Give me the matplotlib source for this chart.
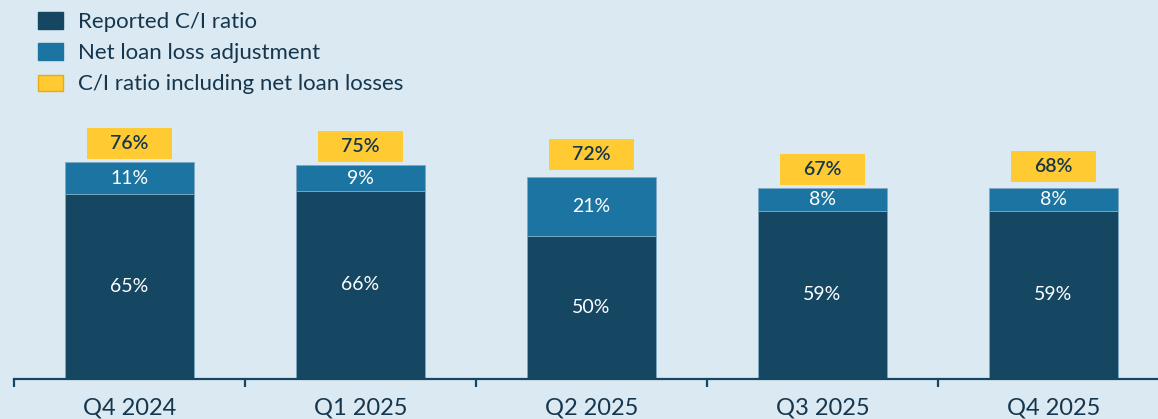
import matplotlib.pyplot as plt
from matplotlib.patches import Patch
import numpy as np

quarters = ["Q4 2024", "Q1 2025", "Q2 2025", "Q3 2025", "Q4 2025"]
reported = [65, 66, 50, 59, 59]
loan_adj = [11, 9, 21, 8, 8]
incl_losses = [76, 75, 72, 67, 68]

bg = "#DAE9F2"
navy = "#154763"
blue = "#1B74A1"
yellow = "#FFCA32"
text_dark = "#16364D"

plt.rcParams['font.family'] = ['Lato', 'DejaVu Sans']

fig = plt.figure(figsize=(11.58, 4.19), dpi=100)
fig.patch.set_facecolor(bg)
ax = fig.add_axes([14 / 1158, 40 / 419, 1155 / 1158, 285 / 419])
ax.set_facecolor(bg)

x = np.arange(len(quarters))
ax.bar(x, reported, width=0.56, color=navy, edgecolor="#7FA8C4", linewidth=0.6)
ax.bar(x, loan_adj, bottom=reported, width=0.56, color=blue, edgecolor="#7FA8C4", linewidth=0.6)
# yellow label boxes above each stack
ax.bar(x, 10.9, bottom=np.array(incl_losses) + 1.2, width=0.37, color=yellow, linewidth=0)

for i in range(len(quarters)):
    ax.text(x[i], reported[i] / 2, f"{reported[i]}%", ha="center", va="center",
            color="white", fontsize=14)
    ax.text(x[i], reported[i] + loan_adj[i] / 2, f"{loan_adj[i]}%", ha="center", va="center",
            color="white", fontsize=14)
    ax.text(x[i], incl_losses[i] + 1.2 + 10.9 / 2, f"{incl_losses[i]}%", ha="center", va="center",
            color=text_dark, fontsize=14, fontweight="semibold")

ax.set_xlim(-0.5, 4.5)
ax.set_ylim(0, 100)

for s in ["top", "right", "left"]:
    ax.spines[s].set_visible(False)
ax.spines["bottom"].set_color(navy)
ax.spines["bottom"].set_linewidth(1.6)
ax.set_yticks([])

# ticks at category boundaries, labels at centres
ax.set_xticks(np.arange(-0.5, 5, 1.0))
ax.set_xticklabels([])
ax.tick_params(axis="x", which="major", length=6, width=1.6, color=navy)
ax.set_xticks(x, minor=True)
ax.set_xticklabels(quarters, minor=True, fontsize=17, color=text_dark)
ax.tick_params(axis="x", which="minor", length=0, pad=13)

handles = [
    Patch(facecolor=navy, edgecolor=navy, label="Reported C/I ratio"),
    Patch(facecolor=blue, edgecolor=blue, label="Net loan loss adjustment"),
    Patch(facecolor=yellow, edgecolor="#EBAA10", label="C/I ratio including net loan losses"),
]
leg = fig.legend(handles=handles, loc="upper left", bbox_to_anchor=(26 / 1158, 1.0),
                 frameon=False, fontsize=16, labelcolor=text_dark,
                 handlelength=1.1, handleheight=0.75, handletextpad=0.7,
                 labelspacing=0.5, borderaxespad=0.15)

fig.savefig("out.png", dpi=100, facecolor=bg)
